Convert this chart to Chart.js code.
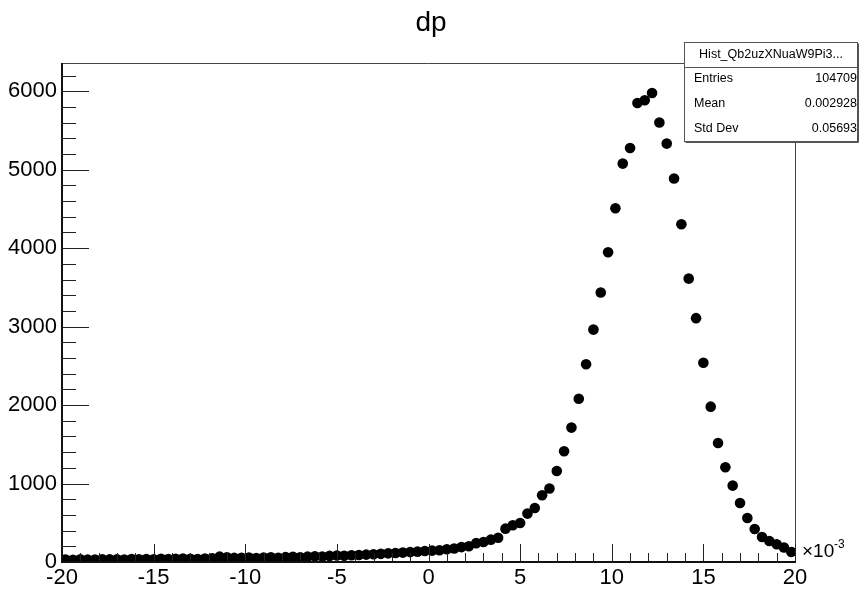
<!DOCTYPE html>
<html>
<head>
<meta charset="utf-8">
<title>dp</title>
<script src="https://cdn.jsdelivr.net/npm/chart.js@4.4.1/dist/chart.umd.min.js"></script>
<style>
  html, body { margin: 0; padding: 0; background: #fff; }
  #wrap { width: 859px; height: 592px; }
</style>
</head>
<body>
<div id="wrap"><canvas id="dp" width="859" height="592"></canvas></div>
<script>
// bin centres, x10^-3
const binCenters = [
  -19.8, -19.4, -19.0, -18.6, -18.2, -17.8, -17.4, -17.0, -16.6, -16.2,
  -15.8, -15.4, -15.0, -14.6, -14.2, -13.8, -13.4, -13.0, -12.6, -12.2,
  -11.8, -11.4, -11.0, -10.6, -10.2, -9.8, -9.4, -9.0, -8.6, -8.2,
  -7.8, -7.4, -7.0, -6.6, -6.2, -5.8, -5.4, -5.0, -4.6, -4.2,
  -3.8, -3.4, -3.0, -2.6, -2.2, -1.8, -1.4, -1.0, -0.6, -0.2,
  0.2, 0.6, 1.0, 1.4, 1.8, 2.2, 2.6, 3.0, 3.4, 3.8,
  4.2, 4.6, 5.0, 5.4, 5.8, 6.2, 6.6, 7.0, 7.4, 7.8,
  8.2, 8.6, 9.0, 9.4, 9.8, 10.2, 10.6, 11.0, 11.4, 11.8,
  12.2, 12.6, 13.0, 13.4, 13.8, 14.2, 14.6, 15.0, 15.4, 15.8,
  16.2, 16.6, 17.0, 17.4, 17.8, 18.2, 18.6, 19.0, 19.4, 19.8
];
const binCounts = [
  30, 28, 34, 30, 32, 36, 33, 35, 31, 37,
  34, 38, 36, 40, 37, 42, 45, 40, 38, 44,
  48, 68, 60, 52, 55, 58, 50, 56, 60, 55,
  62, 66, 61, 68, 72, 70, 78, 82, 80, 86,
  90, 94, 98, 104, 110, 114, 120, 126, 132, 140,
  145, 150, 162, 172, 190, 200, 240, 255, 285, 310,
  425, 468, 497, 617, 688, 850, 936, 1160, 1411, 1713,
  2080, 2520, 2962, 3434, 3948, 4509, 5078, 5277, 5851, 5885,
  5978, 5601, 5333, 4887, 4305, 3612, 3108, 2540, 1980, 1517,
  1207, 974, 752, 561, 421, 319, 268, 226, 184, 127
];
const xTicks = [-20, -15, -10, -5, 0, 5, 10, 15, 20];
const yTicks = [0, 1000, 2000, 3000, 4000, 5000, 6000];
const histTitle = 'dp';
const statsName = 'Hist_Qb2uzXNuaW9Pi3...';
const statsLabels = ['Entries', 'Mean', 'Std Dev'];
const statsValues = ['104709', '0.002928', '0.05693'];

const FONT = '"Liberation Sans", Arial, sans-serif';

// ROOT-like frame: inward ticks, frame box, title, stats box, exponent
const rootFrame = {
    id: 'rootFrame',
    afterDatasetsDraw(chart) {
        const { ctx, chartArea: a } = chart;
        const xs = chart.scales.x;
        const ys = chart.scales.y;
        ctx.save();

        // frame top + right
        ctx.strokeStyle = '#444';
        ctx.lineWidth = 1;
        ctx.beginPath();
        ctx.moveTo(a.left, a.top + 0.5);
        ctx.lineTo(a.right + 0.5, a.top + 0.5);
        ctx.lineTo(a.right + 0.5, a.bottom);
        ctx.stroke();

        // y ticks (major 1000, minor 200)
        ctx.strokeStyle = '#222';
        for (let v = 0; v <= ys.max; v += 200) {
            const y = Math.round(ys.getPixelForValue(v)) + 0.5;
            const len = v % 1000 === 0 ? 27 : 14;
            ctx.beginPath();
            ctx.moveTo(a.left, y);
            ctx.lineTo(a.left + len, y);
            ctx.stroke();
        }
        // x ticks (major 5, minor 1)
        for (let v = xs.min; v <= xs.max; v += 1) {
            const x = Math.round(xs.getPixelForValue(v)) + 0.5;
            const len = v % 5 === 0 ? 18 : 9;
            ctx.beginPath();
            ctx.moveTo(x, a.bottom);
            ctx.lineTo(x, a.bottom - len);
            ctx.stroke();
        }

        // axis lines
        ctx.strokeStyle = '#111';
        ctx.lineWidth = 2;
        ctx.beginPath();
        ctx.moveTo(a.left, a.top);
        ctx.lineTo(a.left, a.bottom);
        ctx.lineTo(a.right + 1, a.bottom);
        ctx.stroke();
        ctx.restore();
    },
    afterDraw(chart) {
        const { ctx } = chart;
        ctx.save();

        // title
        ctx.fillStyle = '#000';
        ctx.font = '28px ' + FONT;
        ctx.textAlign = 'center';
        ctx.textBaseline = 'middle';
        ctx.fillText(histTitle, 431, 23);

        // x10^-3, right of the frame, above the labels
        ctx.textAlign = 'left';
        ctx.font = '19px ' + FONT;
        ctx.fillText('\u00d710', 802, 552);
        ctx.font = '12px ' + FONT;
        ctx.fillText('-3', 834, 545);

        // stats box
        const bx = 684.5, by = 42.5, bw = 173, bh = 99;
        ctx.fillStyle = '#fff';
        ctx.fillRect(bx, by, bw, bh);
        ctx.strokeStyle = '#555';
        ctx.lineWidth = 1;
        ctx.strokeRect(bx, by, bw, bh);
        ctx.fillStyle = '#555';
        ctx.fillRect(bx + 1, by + bh, bw, 1.5);
        ctx.fillRect(bx + bw, by + 1, 1.5, bh);
        ctx.beginPath();
        ctx.moveTo(bx, 67.5);
        ctx.lineTo(bx + bw, 67.5);
        ctx.stroke();

        ctx.fillStyle = '#000';
        ctx.font = '12.5px ' + FONT;
        ctx.textAlign = 'center';
        ctx.fillText(statsName, bx + bw / 2, 55);
        const rowY = [79, 104, 129];
        statsLabels.forEach((lab, i) => {
            ctx.textAlign = 'left';
            ctx.fillText(lab, 694, rowY[i]);
            ctx.textAlign = 'right';
            ctx.fillText(statsValues[i], 857, rowY[i]);
        });
        ctx.restore();
    }
};

const points = binCenters.map((x, i) => ({ x: x, y: binCounts[i] }));

const ctx = document.getElementById('dp').getContext('2d');
new Chart(ctx, {
    type: 'scatter',
    data: {
        datasets: [{
            label: 'dp',
            data: points,
            pointRadius: 5.3,
            pointHoverRadius: 5.3,
            pointBackgroundColor: '#000',
            pointBorderWidth: 0,
            showLine: false,
            clip: 0
        }]
    },
    options: {
        responsive: false,
        animation: false,
        events: [],
        layout: { padding: { top: 63, right: 64, left: 0, bottom: 0 } },
        plugins: { legend: { display: false }, tooltip: { enabled: false }, title: { display: false } },
        scales: {
            x: {
                type: 'linear',
                min: -20,
                max: 20,
                afterBuildTicks: (s) => { s.ticks = xTicks.map(v => ({ value: v })); },
                afterFit: (s) => { s.height = 30; },
                grid: { display: false, drawTicks: false },
                border: { display: false },
                ticks: {
                    color: '#000',
                    padding: 3,
                    maxRotation: 0,
                    autoSkip: false,
                    font: { family: FONT, size: 22 },
                    callback: (v) => String(v)
                }
            },
            y: {
                type: 'linear',
                min: 0,
                max: 6360,
                afterBuildTicks: (s) => { s.ticks = yTicks.map(v => ({ value: v })); },
                afterFit: (s) => { s.width = 62; },
                grid: { display: false, drawTicks: false },
                border: { display: false },
                ticks: {
                    color: '#000',
                    padding: 5,
                    autoSkip: false,
                    font: { family: FONT, size: 22 },
                    callback: (v) => String(v)
                }
            }
        }
    },
    plugins: [rootFrame]
});
</script>
</body>
</html>
